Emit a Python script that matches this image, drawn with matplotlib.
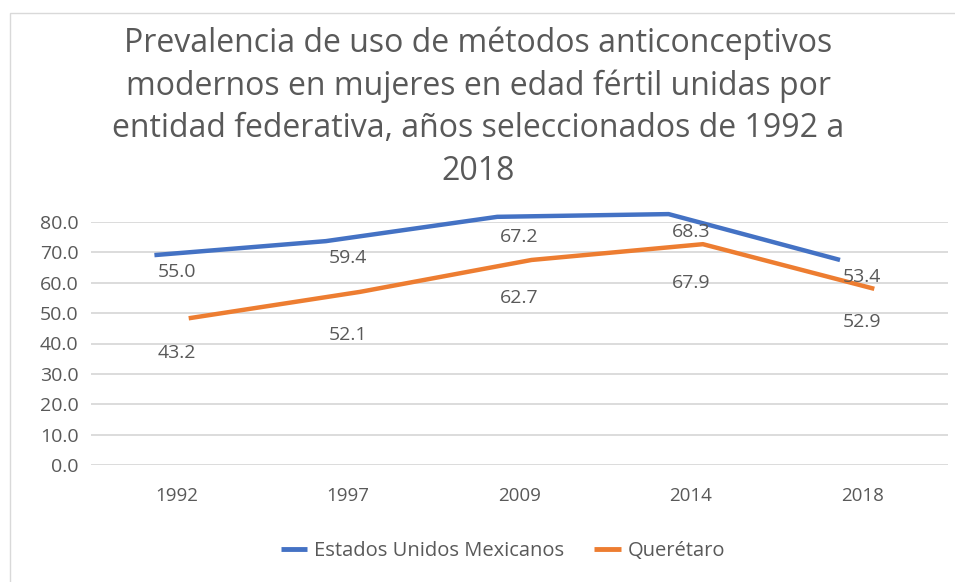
import numpy as np
import matplotlib
matplotlib.use("Agg")
import matplotlib.pyplot as plt
from matplotlib.patches import Rectangle

# Data
years = ["1992", "1997", "2009", "2014", "2018"]
nacional_line = [69.1, 73.7, 81.7, 82.6, 67.5]   # where the line is drawn
nacional_labels = [55.0, 59.4, 67.2, 68.3, 53.4]  # data labels shown
queretaro_line = [48.3, 57.0, 67.5, 72.7, 58.0]
queretaro_labels = [43.2, 52.1, 62.7, 67.9, 52.9]
series_names = ["Estados Unidos Mexicanos", "Querétaro"]

title = ("Prevalencia de uso de métodos anticonceptivos\n"
         "modernos en mujeres en edad fértil unidas por\n"
         "entidad federativa, años seleccionados de 1992 a\n"
         "2018")

blue = "#4472C4"
orange = "#ED7D31"
grey = "#595959"

plt.rcParams['font.family'] = ['Open Sans', 'DejaVu Sans']

fig = plt.figure(figsize=(9.55, 5.82), dpi=100)
# chart border (only top/left visible in the crop)
fig.patches.append(Rectangle((10/955, -0.1), 1.2, (582-13)/582 + 0.1,
                             transform=fig.transFigure, fill=False,
                             edgecolor="#d9d9d9", lw=1))

ax = fig.add_axes([91/955, (582-465)/582, (948-91)/955, (465-222)/582])

x = np.arange(len(years))
ax.plot(x - 0.13, nacional_line, color=blue, lw=3.2, solid_capstyle="butt",
        label=series_names[0], clip_on=False)
ax.plot(x + 0.07, queretaro_line, color=orange, lw=3.2, solid_capstyle="butt",
        label=series_names[1], clip_on=False)

blue_off = [17, 17, 20, 18, 17]
orange_off = [35, 43, 38, 39, 33]
for i in range(len(years)):
    ax.annotate(f"{nacional_labels[i]:.1f}", (x[i], nacional_line[i]),
                xytext=(0, -blue_off[i] * 0.72), textcoords="offset points",
                ha="center", va="center", fontsize=14, color=grey,
                annotation_clip=False)
    ax.annotate(f"{queretaro_labels[i]:.1f}", (x[i], queretaro_line[i]),
                xytext=(0, -orange_off[i] * 0.72), textcoords="offset points",
                ha="center", va="center", fontsize=14, color=grey,
                annotation_clip=False)

ax.set_xlim(-0.5, 4.5)
ax.set_ylim(0, 80)
ax.set_yticks(np.arange(0, 81, 10))
ax.set_yticklabels([f"{v:.1f}" for v in range(0, 81, 10)])
ax.set_xticks(x)
ax.set_xticklabels(years)
ax.tick_params(axis="y", length=0, pad=9, labelsize=14, labelcolor=grey)
ax.tick_params(axis="x", length=0, pad=16, labelsize=13.5, labelcolor=grey)
ax.grid(axis="y", color="#d9d9d9", lw=1.3)
ax.set_axisbelow(True)
for s in ax.spines.values():
    s.set_visible(False)

fig.text(478/955, 1 - 26/582, title, ha="center", va="top", fontsize=23,
         color=grey, linespacing=1.38)

leg = fig.legend(loc="center", bbox_to_anchor=(503/955, 1 - 551/582), ncol=2,
                 frameon=False, fontsize=14.5, handlelength=1.3,
                 columnspacing=1.5, handletextpad=0.35)
for t in leg.get_texts():
    t.set_color(grey)
for h in leg.legend_handles:
    h.set_linewidth(3.5)

fig.savefig("out.png", dpi=100)
